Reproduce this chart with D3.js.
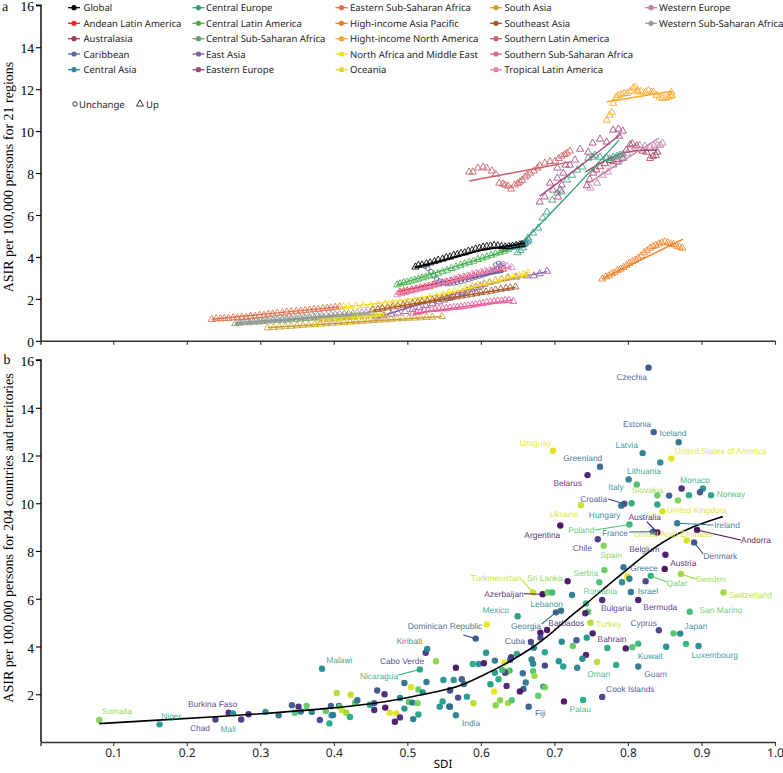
<!DOCTYPE html>
<html><head><meta charset="utf-8">
<script src="https://cdn.jsdelivr.net/npm/d3@7"></script>
<style>html,body{margin:0;padding:0;background:#fff}svg{display:block;text-rendering:geometricPrecision}</style>
</head><body><svg id="c" width="783" height="773"></svg>
<script>
// ---------- Panel a: regions ----------
const regionNames=["Global","Andean Latin America","Australasia","Caribbean","Central Asia","Central Europe","Central Latin America","Central Sub-Saharan Africa","East Asia","Eastern Europe","Eastern Sub-Saharan Africa","High-income Asia Pacific","Hight-income North America","North Africa and Middle East","Oceania","South Asia","Southeast Asia","Southern Latin America","Southern Sub-Saharan Africa","Tropical Latin America","Western Europe","Western Sub-Saharan Africa"];
const regionColors=["#000000","#e3262b","#a33d5c","#5667a8","#2e87a0","#35a07c","#42b04c","#6e9a76","#8a5aa6","#a8457f","#e0704a","#f07f22","#f9a825","#f7d91e","#e8d22e","#c99f2c","#a5562a","#c95f66","#e65f9a","#e47db8","#c47fa8","#999999"];
const regionTrend=["up","up","up","unchange","up","up","up","up","up","up","up","up","up","up","up","up","up","up","up","up","up","up"];

const rGlobal=[[.511,3.52],[.515,3.6],[.52,3.62],[.526,3.68],[.531,3.72],[.537,3.78],[.542,3.85],[.548,3.9],[.553,3.97],[.558,4.0],[.563,4.08],[.568,4.12],[.573,4.17],[.578,4.2],[.583,4.28],[.588,4.31],[.593,4.38],[.598,4.42],[.603,4.47],[.608,4.5],[.613,4.52],[.618,4.55],[.623,4.53],[.628,4.5],[.633,4.48],[.638,4.5],[.643,4.52],[.648,4.55],[.653,4.58],[.656,4.6]];
const rAndean=[[.49,2.32],[.495,2.35],[.5,2.38],[.506,2.43],[.512,2.47],[.518,2.52],[.524,2.55],[.53,2.6],[.536,2.67],[.542,2.72],[.548,2.76],[.554,2.8],[.56,2.85],[.566,2.9],[.572,2.95],[.578,3.0],[.584,3.05],[.59,3.1],[.596,3.15],[.602,3.2],[.608,3.25],[.614,3.3],[.62,3.35],[.626,3.38],[.63,3.42]];
const rAustralasia=[[.744,7.4],[.748,7.7],[.753,8.0],[.757,8.15],[.762,8.3],[.769,8.45],[.776,8.6],[.78,8.55],[.785,8.65],[.793,8.7],[.798,9.1],[.803,9.35],[.806,9.4],[.812,9.3],[.82,9.05],[.825,9.0],[.83,8.7],[.834,8.8],[.838,8.85],[.84,9.0]];
const rCaribbean=[[.524,3.55],[.528,3.45],[.532,3.3],[.536,3.1],[.54,2.95],[.544,2.85],[.548,2.78],[.553,2.72],[.558,2.72],[.563,2.75],[.568,2.78],[.573,2.82],[.578,2.88],[.583,2.92],[.588,2.98],[.593,3.03],[.598,3.08],[.603,3.13],[.608,3.2],[.613,3.27],[.618,3.35],[.622,3.45],[.626,3.57],[.63,3.67],[.624,3.7],[.62,3.62]];
const rCentralAsia=[[.63,4.38],[.635,4.42],[.64,4.45],[.645,4.48],[.65,4.52],[.655,4.55],[.658,4.6],[.66,4.65],[.663,4.72],[.665,4.8]];
const rCentralEurope=[[.65,4.2],[.654,4.3],[.657,4.43],[.66,4.7],[.664,4.9],[.671,5.14],[.678,5.38],[.684,5.86],[.69,6.14],[.697,6.71],[.704,7.05],[.71,7.1],[.717,7.67],[.724,7.9],[.731,8.14],[.738,8.29],[.746,8.71],[.752,8.76],[.755,8.85],[.762,8.76],[.771,8.71],[.775,8.68],[.78,8.76],[.785,8.8],[.789,8.86],[.793,8.9]];
const rCentralLatin=[[.486,2.67],[.49,2.72],[.495,2.78],[.5,2.8],[.505,2.85],[.51,2.9],[.515,2.95],[.52,3.0],[.525,3.05],[.53,3.1],[.536,3.15],[.542,3.22],[.548,3.3],[.554,3.37],[.56,3.45],[.566,3.52],[.572,3.6],[.578,3.67],[.584,3.74],[.59,3.8],[.596,3.88],[.602,3.95],[.608,4.0],[.614,4.08],[.62,4.15],[.626,4.22],[.632,4.28],[.637,4.35]];
const rCentralSSA=[[.266,.82],[.272,.85],[.278,.87],[.285,.87],[.291,.9],[.298,.9],[.304,.93],[.31,.95],[.317,.96],[.323,.98],[.33,.99],[.336,1.0],[.342,1.03],[.349,1.03],[.355,1.05],[.361,1.07],[.367,1.08],[.374,1.1],[.38,1.1],[.386,1.12],[.393,1.13],[.399,1.15],[.405,1.15],[.412,1.17],[.418,1.18],[.424,1.2]];
const rEastAsia=[[.458,1.14],[.468,1.2],[.478,1.27],[.487,1.33],[.497,1.4],[.507,1.5],[.516,1.58],[.525,1.68],[.534,1.77],[.543,1.86],[.55,1.95],[.557,2.03],[.563,2.12],[.569,2.2],[.575,2.3],[.581,2.38],[.587,2.47],[.593,2.55],[.599,2.62],[.605,2.7],[.612,2.78],[.62,2.86],[.628,2.93],[.637,3.0],[.648,3.04],[.662,3.1],[.672,3.1],[.68,3.2],[.69,3.32]];
const rEasternEurope=[[.68,6.62],[.687,6.86],[.694,7.52],[.698,7.19],[.705,6.86],[.708,7.19],[.71,7.43],[.704,7.76],[.712,8.0],[.704,8.24],[.715,8.38],[.721,8.38],[.728,8.62],[.735,9.14],[.746,9.0],[.752,9.43],[.762,9.62],[.771,9.48],[.78,10.05],[.787,10.1],[.788,9.76],[.793,10.0]];
const rEasternSSA=[[.234,1.02],[.24,1.05],[.246,1.05],[.251,1.07],[.257,1.07],[.263,1.1],[.269,1.1],[.275,1.13],[.281,1.12],[.287,1.17],[.293,1.18],[.299,1.22],[.305,1.22],[.311,1.27],[.317,1.28],[.323,1.32],[.33,1.33],[.336,1.37],[.342,1.38],[.349,1.41],[.355,1.42],[.361,1.45],[.367,1.47],[.373,1.5],[.379,1.5],[.385,1.54],[.391,1.55],[.396,1.57],[.402,1.6],[.408,1.62]];
const rAsiaPacific=[[.765,2.95],[.77,3.05],[.774,3.1],[.778,3.2],[.782,3.25],[.786,3.35],[.79,3.42],[.794,3.5],[.798,3.6],[.802,3.7],[.806,3.78],[.81,3.85],[.814,3.95],[.818,4.05],[.822,4.2],[.826,4.3],[.83,4.42],[.834,4.5],[.838,4.55],[.842,4.62],[.846,4.68],[.85,4.72],[.854,4.68],[.858,4.62],[.862,4.6],[.866,4.52],[.87,4.47],[.874,4.42]];
const rNorthAmerica=[[.771,10.52],[.775,10.76],[.778,10.9],[.78,11.33],[.784,11.62],[.787,11.71],[.791,11.76],[.795,11.8],[.799,11.8],[.803,11.9],[.807,12.05],[.81,12.1],[.813,11.95],[.814,11.86],[.818,11.9],[.824,11.86],[.828,11.95],[.832,11.86],[.835,11.86],[.839,11.71],[.843,11.62],[.847,11.57],[.851,11.57],[.855,11.62],[.858,11.67],[.86,11.71],[.859,11.86]];
const rNorthAfrica=[[.413,1.62],[.42,1.65],[.43,1.66],[.44,1.68],[.45,1.7],[.46,1.72],[.47,1.75],[.48,1.78],[.49,1.82],[.5,1.86],[.51,1.9],[.52,1.97],[.53,2.05],[.54,2.12],[.548,2.2],[.556,2.28],[.564,2.37],[.572,2.45],[.58,2.52],[.588,2.6],[.596,2.68],[.604,2.74],[.612,2.8],[.62,2.87],[.628,2.93],[.636,3.0],[.644,3.05],[.652,3.1],[.658,3.17],[.664,3.24]];
const rOceania=[[.38,1.0],[.384,1.02],[.388,1.03],[.392,1.02],[.396,1.05],[.4,1.07],[.404,1.06],[.408,1.09],[.412,1.1],[.416,1.1],[.42,1.12],[.424,1.14],[.428,1.13],[.432,1.16],[.436,1.17],[.44,1.18],[.444,1.2],[.448,1.2],[.452,1.23],[.456,1.24],[.46,1.26],[.464,1.27],[.468,1.27]];
const rSouthAsia=[[.31,.62],[.318,.64],[.326,.66],[.334,.68],[.342,.7],[.35,.72],[.358,.74],[.366,.76],[.374,.78],[.382,.8],[.39,.82],[.398,.84],[.406,.86],[.414,.88],[.422,.9],[.43,.91],[.438,.93],[.446,.95],[.454,.97],[.462,.99],[.47,1.0],[.478,1.03],[.486,1.05],[.494,1.06],[.502,1.08],[.51,1.09],[.518,1.1],[.526,1.12],[.534,1.13],[.547,1.16]];
const rSoutheastAsia=[[.453,1.48],[.46,1.5],[.466,1.55],[.473,1.58],[.48,1.62],[.487,1.66],[.494,1.7],[.5,1.73],[.507,1.78],[.514,1.82],[.52,1.86],[.527,1.9],[.534,1.93],[.54,1.97],[.547,2.0],[.554,2.03],[.56,2.07],[.567,2.1],[.574,2.14],[.58,2.18],[.587,2.22],[.594,2.25],[.6,2.3],[.607,2.33],[.614,2.37],[.62,2.42],[.627,2.46],[.634,2.5],[.64,2.53],[.647,2.57]];
const rSouthernLatin=[[.584,8.05],[.589,8.05],[.596,8.24],[.603,8.29],[.608,8.24],[.615,8.1],[.62,7.95],[.625,7.52],[.63,7.48],[.633,7.43],[.637,7.38],[.641,7.24],[.646,7.43],[.65,7.5],[.653,7.57],[.656,7.65],[.66,7.81],[.663,7.9],[.667,8.0],[.672,8.1],[.677,8.24],[.68,8.35],[.687,8.48],[.694,8.55],[.701,8.57],[.706,8.7],[.71,8.81],[.714,8.88],[.717,8.95],[.721,9.05]];
const rSouthernSSA=[[.508,1.33],[.513,1.36],[.518,1.4],[.523,1.45],[.528,1.48],[.533,1.5],[.538,1.5],[.543,1.53],[.548,1.53],[.553,1.55],[.558,1.57],[.563,1.6],[.568,1.6],[.573,1.62],[.578,1.65],[.583,1.67],[.588,1.7],[.593,1.73],[.598,1.77],[.603,1.78],[.608,1.83],[.613,1.85],[.618,1.88],[.623,1.9],[.628,1.9],[.633,1.93],[.638,1.92],[.644,1.88]];
const rTropicalLatin=[[.486,2.2],[.492,2.25],[.498,2.3],[.504,2.37],[.51,2.42],[.516,2.48],[.522,2.53],[.528,2.58],[.534,2.65],[.54,2.7],[.546,2.76],[.552,2.82],[.558,2.87],[.564,2.93],[.57,3.0],[.576,3.05],[.582,3.1],[.588,3.17],[.594,3.22],[.6,3.27],[.606,3.32],[.612,3.37],[.618,3.42],[.624,3.47],[.63,3.52],[.636,3.55],[.642,3.5]];
const rWesternEurope=[[.749,7.29],[.758,7.52],[.766,7.9],[.773,8.05],[.78,8.38],[.787,8.52],[.793,8.76],[.799,8.95],[.803,9.1],[.81,9.24],[.816,9.33],[.823,9.29],[.83,9.24],[.836,9.29],[.84,9.33],[.844,9.33],[.847,9.43]];
const rWesternSSA=[[.27,.86],[.276,.88],[.282,.9],[.288,.92],[.294,.93],[.3,.95],[.306,.98],[.312,1.0],[.318,1.0],[.324,1.03],[.33,1.05],[.336,1.06],[.342,1.08],[.348,1.1],[.354,1.12],[.36,1.14],[.366,1.15],[.372,1.17],[.378,1.19],[.384,1.2],[.39,1.22],[.396,1.24],[.402,1.25],[.408,1.26],[.414,1.28],[.42,1.29],[.426,1.3],[.432,1.32],[.438,1.33],[.444,1.34],[.45,1.36]];
const regionPoints=[rGlobal,rAndean,rAustralasia,rCaribbean,rCentralAsia,rCentralEurope,rCentralLatin,rCentralSSA,rEastAsia,rEasternEurope,rEasternSSA,rAsiaPacific,rNorthAmerica,rNorthAfrica,rOceania,rSouthAsia,rSoutheastAsia,rSouthernLatin,rSouthernSSA,rTropicalLatin,rWesternEurope,rWesternSSA];

// fitted line per region (same order)
const regionFits=[
 [[.51,3.5],[.55,3.85],[.6,4.32],[.63,4.48],[.66,4.65]],
 [[.488,2.35],[.63,3.4]],
 [[.742,8.05],[.793,8.95],[.84,9.1]],
 [[.535,2.67],[.63,3.28]],
 [[.63,4.4],[.665,4.78]],
 [[.65,4.45],[.72,7.0],[.788,9.57]],
 [[.486,2.67],[.637,4.33]],
 [[.266,.84],[.424,1.2]],
 [[.458,1.1],[.6,2.6],[.69,3.3]],
 [[.68,6.9],[.73,8.2],[.79,9.85]],
 [[.234,1.03],[.408,1.62]],
 [[.765,2.95],[.875,4.85]],
 [[.771,11.4],[.86,11.9]],
 [[.413,1.6],[.55,2.25],[.664,3.24]],
 [[.38,1.0],[.468,1.28]],
 [[.31,.62],[.547,1.16]],
 [[.453,1.45],[.647,2.55]],
 [[.584,7.62],[.72,8.52]],
 [[.508,1.3],[.644,1.95]],
 [[.486,2.2],[.642,3.55]],
 [[.746,7.52],[.842,9.67]],
 [[.27,.86],[.45,1.35]]
];
// ---------- Panel b: countries ----------
const dotSdi=[.828,.835,.869,.698,.82,.859,.844,.762,.745,.801,.812,.873,.902,.898,.913,.883,.856,.84,.868,.84,.795,.791,.805,.736,.847,.708,.802,.867,.894,.84,.834,.88,.89,.759,.767,.851,
.768,.794,.85,.872,.831,.799,.802,.792,.824,.718,.761,.671,.684,.691,.697,.724,.804,.93,.765,.814,.743,.746,.742,.709,.702,.65,.884,.608,.749,.69,.681,.752,.842,.862,.871,.593,.668,.681,.71,.73,.744,.725,.672,.687,.607,.649,.641,.64,.619,.589,.597,.604,.566,.772,.797,.806,.814,.852,.879,.896,.743,.738,.669,.671,.706,.712,.687,.731,.758,.784,.814,.671,.673,.657,.661,.658,.653,.685,.687,.678,.665,.713,.739,.765,.632,.639,.636,.633,.629,.619,.624,.613,.635,.618,.626,.62,.637,.642,.59,.581,.569,.558,.566,.574,.577,.563,.558,
.081,.163,.239,.257,.263,.274,.284,.307,.325,.343,.352,.355,.347,.363,.37,.381,.384,.389,.394,.396,.397,.399,.404,.407,.408,.411,.417,.422,.423,.429,.432,.449,.455,.455,.459,.469,.47,.476,.485,.483,.49,.49,.496,.496,.505,.502,.507,.514,.515,.508,.515,.517,.521,.526,.525,.527,.539,.544,.548,.549,.557,.558];
const dotAsir=[15.68,12.98,12.56,12.2,12.1,11.87,11.71,11.53,11.18,11.0,10.79,10.62,10.62,10.46,10.34,10.34,10.32,10.33,10.12,9.95,9.98,9.9,10.0,9.92,9.66,9.07,9.11,9.16,8.88,8.78,8.81,8.44,8.36,8.49,8.22,7.84,
7.2,7.32,7.25,7.04,6.96,6.93,6.84,6.69,6.73,6.73,6.69,6.26,6.19,6.26,6.26,6.16,6.28,6.26,5.95,5.95,5.8,5.46,5.39,5.5,5.43,5.27,5.46,4.92,5.0,4.69,4.58,4.55,4.68,4.55,4.54,4.33,4.19,4.37,4.2,4.26,4.37,4.02,3.95,3.76,3.74,3.69,3.55,3.44,3.41,3.27,3.27,3.3,3.11,3.94,3.92,3.97,4.12,3.99,4.11,4.02,3.65,3.49,3.46,3.28,3.38,3.16,3.2,3.11,3.35,3.23,3.16,2.97,2.77,2.88,2.49,2.22,2.12,2.32,2.29,1.94,1.48,1.7,1.76,1.89,3.32,2.99,2.95,2.9,3.02,2.9,2.63,2.42,2.35,2.12,1.75,1.54,1.63,1.75,1.62,1.9,1.86,1.48,1.12,2.63,2.43,2.6,2.18,
.92,.74,.94,1.23,1.2,.94,1.16,1.26,1.12,1.54,1.48,1.28,1.23,1.51,1.26,.92,3.07,1.3,.78,1.51,1.12,1.13,2.05,1.51,1.48,1.34,1.23,1.05,1.98,1.65,1.75,1.56,1.63,1.34,2.16,2.0,1.44,1.23,1.2,.85,1.03,1.84,2.47,1.4,2.3,1.68,1.65,1.63,2.2,.96,1.15,3.04,2.08,2.51,3.74,3.9,3.38,1.48,1.7,2.6,1.49,2.16];
const dotTone=[.22,.3,.36,.95,.42,.95,.45,.33,.07,.42,.7,.1,.5,.27,.58,.6,.28,.75,.8,.58,.2,.38,.62,.92,.93,.03,.65,.38,.02,.03,.3,.93,.25,.17,.8,.05,
.75,.37,.03,.85,.62,.97,.42,.48,.2,.05,.7,.92,.02,.78,.68,.42,.38,.85,.1,.06,.65,.72,.07,.38,.28,.55,.68,.97,.88,.04,.03,.05,.2,.72,.42,.25,.2,.2,.45,.25,.55,.75,.4,.6,.5,.6,.12,.25,.38,.6,.5,.05,.05,.6,.05,.72,.65,.47,.65,.47,.07,.47,.42,.45,.5,.55,.17,.45,.88,.6,.4,.72,.85,.35,.4,.28,.05,.42,.8,.75,.28,.05,.6,.18,.95,.65,.8,.18,.68,.55,.62,.55,.08,.97,.82,.82,.85,.72,.88,.55,.2,.3,.42,.3,.35,.5,.2,
.8,.55,.17,.1,.5,.15,.1,.48,.38,.27,.1,.35,.72,.75,.45,.2,.48,.75,.6,.28,.47,.42,.88,.2,.75,.92,.85,.6,.9,.72,.35,.6,.25,.08,.25,.1,.05,.95,.95,.05,.12,.43,.35,.5,.95,.75,.4,.8,.75,.4,.58,.58,.5,.38,.13,.45,.82,.5,.55,.5,.36,.25];

const curveSdi=[.081,.181,.3,.399,.453,.491,.526,.558,.576,.601,.63,.671,.694,.717,.744,.768,.798,.839,.88,.929];
const curveAsir=[.77,.95,1.17,1.42,1.6,1.8,2.02,2.22,2.4,2.76,3.2,3.95,4.5,5.15,5.8,6.45,7.2,8.25,8.95,9.44];

// ---------- annotation layout (label name, tone, page position) ----------
const countryLabels=[["Czechia",.24,631.7,376.7],["Estonia",.3,637,424],["Iceland",.4,673,433],["Uruguay",.96,535.7,442.7],["Latvia",.5,626.7,444.7],["United States of America",.95,720.7,451.3],["Greenland",.35,582.7,458.3],["Belarus",.09,567.7,483],["Lithuania",.53,644,471],["Monaco",.62,695,480],["Italy",.43,616,486.7],["Slovakia",.84,647.7,490.3],["Norway",.66,731,493.7],["Croatia",.21,593.7,498.7],["Ukraine",.93,564,514.3],["Hungary",.39,604.7,515],["United Kingdom",.95,696.7,509.7],["Australia",.04,644.7,516.7],["Ireland",.42,727,525],["Argentina",.03,542.3,534.7],["Poland",.72,581.3,530.3],["France",.32,615,532.7],["United Arab Emirates",.94,673.7,533.7],["Andorra",.02,756,540.3],["Chile",.19,582.3,547.7],["Denmark",.25,720.3,556],["Spain",.8,611.3,555],["Belgium",.1,644.3,549.3],["Austria",.05,683.3,563.3],["Serbia",.76,585.7,573.3],["Greece",.35,644,567.7],["Sweden",.85,710.7,579.3],["Qatar",.75,677,582.7],["Turkmenistan",.91,496,578.3],["Sri Lanka",.82,545,578.3],["Azerbaijan",.06,504,593.7],["Romania",.72,600.3,591.3],["Israel",.42,648,591.3],["Switzerland",.87,750.3,594.7],["Lebanon",.5,546.7,604],["Bulgaria",.13,616.3,608],["Bermuda",.11,660.3,607.3],["Mexico",.58,495.7,610],["San Marino",.75,721,610],["Georgia",.34,526,625.7],["Barbados",.08,566.3,622.7],["Turkey",.9,608.7,623.7],["Cyprus",.23,643.7,622.7],["Dominican Republic",.26,445,625.7],["Japan",.44,696,625.7],["Cuba",.22,515,641],["Bahrain",.07,612,639],["Kuwait",.48,650.3,655.7],["Luxembourg",.53,714.7,655.3],["Oman",.66,598.7,674],["Guam",.37,655.7,674],["Cook Islands",.2,630.3,689],["Palau",.67,580.3,709],["Fiji",.31,540.3,713.3],["India",.4,471,723.3],["Kiribati",.47,409.3,640.7],["Malawi",.55,339.3,660],["Cabo Verde",.16,402,660.7],["Nicaragua",.62,379,676.3],["Somalia",.82,117,711.3],["Niger",.6,171.3,716],["Burkina Faso",.14,212.7,703.7],["Chad",.18,200,728.3],["Mali",.57,228.3,728.7]];
// leader: dot sdi, dot asir, far end on page, tone
const leaders=[[.867,9.16,713.3,525,.42],[.894,8.88,740.7,540,.02],[.84,8.78,646.7,521.7,.04],[.834,8.81,629,532,.32],[.802,9.11,595,530,.72],[.795,9.98,608,499,.21],[.89,8.36,703.3,554,.25],[.872,7.04,696.7,579.3,.85],[.831,6.96,666.7,582,.75],[.671,6.26,521.3,579.3,.91],[.684,6.19,524,593.7,.06],[.702,5.43,541.7,624,.34],[.593,4.33,463.3,635,.26],[.517,3.04,398.3,675,.62]];
const legendCols=[[74,83.5],[198.5,206],[341.5,350],[496,504.5],[651,659]];
const legendRows=[7.7,23.3,38.7,54,69.7];
const legendLayout=[5,5,5,5,2];

// ---------- scales ----------
const x=d3.scaleLinear().domain([0,1]).range([39.7,775]);
const yA=d3.scaleLinear().domain([0,16]).range([340.8,5.3]);
const yB=d3.scaleLinear().domain([0,16]).range([742,360]);
const svg=d3.select("#c");
const sans="'Liberation Sans',Arial,sans-serif",serif="'Liberation Serif',serif",ui="'Noto Sans',sans-serif";
const viridis=d3.scaleSequential(d3.interpolateViridis).domain([0,1]);

function axes(y,labelX){
  const g=svg.append("g");
  const ax=g.append("g").attr("transform",`translate(0,${y.range()[0]})`)
    .call(d3.axisBottom(x).tickValues(d3.range(1,11).map(d=>d/10)).tickSize(4).tickFormat(labelX?d3.format(".1f"):""));
  ax.select(".domain").attr("d",`M41,0.5V4M41,0.5H775`).attr("stroke","#333").attr("stroke-width",1.4);
  ax.selectAll(".tick line").attr("stroke","#333").attr("stroke-width",1.1);
  ax.selectAll("text").attr("font-family",ui).attr("font-size",12).attr("fill","#222").attr("y",6);
  const ay=g.append("g").attr("transform","translate(41,0)")
    .call(d3.axisLeft(y).tickValues(d3.range(0,17,2).filter(d=>labelX?d>0:true)).tickSize(5));
  ay.select(".domain").attr("d",`M-5,${y(16)}H0V${y.range()[0]}`).attr("stroke","#000").attr("stroke-width",1.4);
  ay.selectAll(".tick line").attr("stroke","#000").attr("stroke-width",1.1);
  ay.selectAll("text").attr("font-family",serif).attr("font-size",13.5).attr("fill","#000").attr("x",-7).attr("dy","0.42em");
}
axes(yA,false); axes(yB,true);

// ---------- panel a marks ----------
const tri=d3.symbol().type(d3.symbolTriangle).size(22);
const order=d3.range(1,regionNames.length).concat([0]);
order.forEach(i=>{
  const g=svg.append("g").attr("data-region",regionNames[i]);
  g.append("path").attr("d",d3.line().curve(d3.curveCatmullRom).x(d=>x(d[0])).y(d=>yA(d[1]))(regionFits[i]))
    .attr("fill","none").attr("stroke",regionColors[i]).attr("stroke-width",i===0?2:1.4);
  g.selectAll("path.m").data(regionPoints[i]).join("path").attr("class","m")
    .attr("transform",d=>`translate(${x(d[0])},${yA(d[1])})`)
    .attr("d",regionTrend[i]==="up"?tri():d3.symbol().type(d3.symbolCircle).size(16)())
    .attr("fill","none").attr("stroke",regionColors[i]).attr("stroke-width",.85);
});

// ---------- legend ----------
let li=0;
legendLayout.forEach((n,c)=>{ for(let r=0;r<n;r++){
  const name=regionNames[li],col=regionColors[li],g=svg.append("g");
  const y=legendRows[r];
  g.append("line").attr("x1",legendCols[c][0]-6).attr("x2",legendCols[c][0]+6).attr("y1",y).attr("y2",y).attr("stroke",col).attr("stroke-width",1.3);
  g.append("circle").attr("cx",legendCols[c][0]).attr("cy",y).attr("r",2.6).attr("fill",col);
  g.append("text").attr("x",legendCols[c][1]).attr("y",y+3.5).attr("font-family",ui).attr("font-size",9.5).attr("fill","#222").text(name);
  li++;
}});
svg.append("circle").attr("cx",75).attr("cy",104).attr("r",2.2).attr("fill","none").attr("stroke","#222").attr("stroke-width",.9);
svg.append("text").attr("x",79).attr("y",107.5).attr("font-family",ui).attr("font-size",9.5).attr("fill","#222").text("Unchange");
svg.append("path").attr("d",tri()).attr("transform","translate(140,104)").attr("fill","none").attr("stroke","#222").attr("stroke-width",.9);
svg.append("text").attr("x",146).attr("y",107.5).attr("font-family",ui).attr("font-size",9.5).attr("fill","#222").text("Up");

// ---------- panel b marks ----------
svg.append("g").selectAll("circle").data(dotSdi.map((s,i)=>({s,a:dotAsir[i],t:dotTone[i]}))).join("circle")
  .attr("cx",d=>x(d.s)).attr("cy",d=>yB(d.a)).attr("r",3.2).attr("fill",d=>viridis(d.t)).attr("fill-opacity",.95);
svg.append("path").attr("d",d3.line().curve(d3.curveBasis).x(d=>x(d[0])).y(d=>yB(d[1]))(curveSdi.map((s,i)=>[s,curveAsir[i]])))
  .attr("fill","none").attr("stroke","#000").attr("stroke-width",1.6);
svg.append("g").selectAll("line").data(leaders).join("line")
  .attr("x1",d=>x(d[0])).attr("y1",d=>yB(d[1])).attr("x2",d=>d[2]).attr("y2",d=>d[3])
  .attr("stroke",d=>viridis(d[4])).attr("stroke-width",1.1);
svg.append("g").selectAll("text").data(countryLabels).join("text")
  .attr("x",d=>d[2]).attr("y",d=>d[3]+3).attr("text-anchor","middle")
  .attr("font-family",sans).attr("font-size",8.4).attr("fill",d=>viridis(d[1])).attr("fill-opacity",.9).text(d=>d[0]);

// ---------- titles ----------
const t=(s,xx,yy,rot,fam,sz)=>svg.append("text").attr("transform",`translate(${xx},${yy})${rot?" rotate(-90)":""}`).attr("text-anchor","middle").attr("font-family",fam).attr("font-size",sz).attr("fill","#000").text(s);
t("ASIR per 100,000 persons for 21 regions",13,177,true,serif,14);
t("ASIR per 100,000 persons for 204 countries and territories",13,538,true,serif,14);
t("SDI",443,768,false,ui,11.5);
t("a",5,11,false,serif,14);
t("b",7,364,false,serif,14);
</script></body></html>
